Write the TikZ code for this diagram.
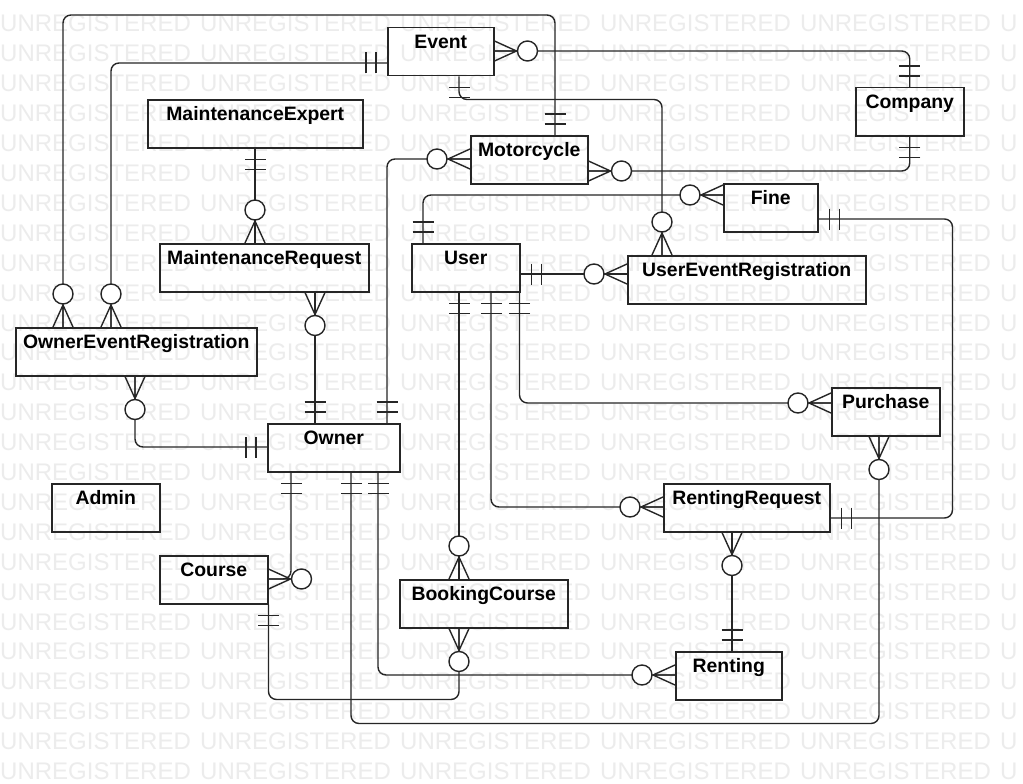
\documentclass[tikz,border=0pt]{standalone}
\usepackage{fontspec}
\setmainfont{Liberation Sans}
\usetikzlibrary{calc}
\tikzset{
  ent/.style={draw=black!85, line width=1.5pt, rectangle, anchor=north west,
    minimum height=48pt, inner xsep=0pt, inner ysep=0pt,
    text height=20.5pt, text depth=27.5pt,
    font=\fontsize{19.4}{20}\selectfont\bfseries},
  erline/.style={draw=black!85, line width=1.4pt, line join=round},
  conn/.style={erline, rounded corners=8pt},
  wm/.style={text=gray!15, font=\fontsize{24}{24}\selectfont, inner sep=0pt, anchor=base west},
}
\newcommand\ZeroMany[2]{%
  \begin{scope}[shift={(#1)},rotate=#2]
    \draw[erline] (0,-10) -- (22,0) -- (0,10) (0,0) -- (22,0);
    \draw[erline,fill=white] (33,0) circle[radius=10];
  \end{scope}}
\newcommand\MandOne[2]{%
  \begin{scope}[shift={(#1)},rotate=#2]
    \draw[erline] (11,-10.5) -- (11,10.5) (21,-10.5) -- (21,10.5);
  \end{scope}}
\begin{document}
\begin{tikzpicture}[x=1pt,y=-1pt]
\useasboundingbox (0,0) rectangle (1023,784);
\fill[white] (0,0) rectangle (1023,784);
% watermark
\foreach \r in {0,...,25} {
  \foreach \c in {0,...,4} {
    \node[wm] (wm-\r-\c) at ({200*\c},{32+29.9*\r}) {UNREGISTERED};
  }
  \node[wm] (wm-\r-5) at (1000,{32+29.9*\r}) {U};
}
% entities
\node[ent, minimum width=106pt] (event)    at (387,27)  {Event};
\node[ent, minimum width=108pt] (company)  at (855,87)  {Company};
\node[ent, minimum width=215pt] (mexpert)  at (147,99)  {MaintenanceExpert};
\node[ent, minimum width=117pt] (moto)     at (470,135) {Motorcycle};
\node[ent, minimum width=94pt]  (fine)     at (723,183) {Fine};
\node[ent, minimum width=108pt] (user)     at (411,243) {User};
\node[ent, minimum width=238pt] (uer)      at (627,255) {UserEventRegistration};
\node[ent, minimum width=209pt] (mreq)     at (159,243) {MaintenanceRequest};
\node[ent, minimum width=241pt] (oer)      at (15,327)  {OwnerEventRegistration};
\node[ent, minimum width=108pt] (purchase) at (831,387) {Purchase};
\node[ent, minimum width=132pt] (owner)    at (267,423) {Owner};
\node[ent, minimum width=108pt] (admin)    at (51,483)  {Admin};
\node[ent, minimum width=166pt] (rreq)     at (663,483) {RentingRequest};
\node[ent, minimum width=108pt] (course)   at (159,555) {Course};
\node[ent, minimum width=168pt] (booking)  at (399,579) {BookingCourse};
\node[ent, minimum width=106pt] (renting)  at (675,651) {Renting};
% end points
\coordinate (e1a) at ($(oer.north west)+(48,0)$);
\coordinate (e1b) at ($(moto.north west)+(85,0)$);
\coordinate (e2a) at ($(oer.north west)+(96,0)$);
\coordinate (e2b) at ($(event.north west)+(0,36)$);
\coordinate (e3a) at ($(mexpert.south west)+(108,0)$);
\coordinate (e3b) at ($(mreq.north west)+(96,0)$);
\coordinate (e4a) at ($(mreq.south west)+(156,0)$);
\coordinate (e4b) at ($(owner.north west)+(48,0)$);
\coordinate (e5a) at ($(oer.south west)+(120,0)$);
\coordinate (e5b) at ($(owner.north west)+(0,24)$);
\coordinate (e6a) at ($(owner.north west)+(120,0)$);
\coordinate (e6b) at ($(moto.north west)+(0,24)$);
\coordinate (e7a) at ($(event.north east)+(0,24)$);
\coordinate (e7b) at (company.north);
\coordinate (e8a) at ($(moto.north east)+(0,36)$);
\coordinate (e8b) at (company.south);
\coordinate (e9a) at ($(event.south west)+(72,0)$);
\coordinate (e9b) at ($(uer.north west)+(35,0)$);
\coordinate (e10a) at ($(fine.north west)+(0,12)$);
\coordinate (e10b) at ($(user.north west)+(12,0)$);
\coordinate (e11a) at ($(user.north east)+(0,31)$);
\coordinate (e11b) at ($(uer.north west)+(0,19)$);
\coordinate (e12a) at ($(fine.north east)+(0,36)$);
\coordinate (e12b) at ($(rreq.north east)+(0,35)$);
\coordinate (e13a) at ($(user.south east)+(-1,0)$);
\coordinate (e13b) at ($(purchase.north west)+(0,16)$);
\coordinate (e14a) at ($(user.south west)+(80,0)$);
\coordinate (e14b) at ($(rreq.north west)+(0,24)$);
\coordinate (e15a) at ($(user.south west)+(48,0)$);
\coordinate (e15b) at ($(booking.north west)+(60,0)$);
\coordinate (e16a) at ($(rreq.south west)+(69,0)$);
\coordinate (e16b) at ($(renting.north west)+(57,0)$);
\coordinate (e17a) at ($(owner.south west)+(111,0)$);
\coordinate (e17b) at ($(renting.north west)+(0,24)$);
\coordinate (e18a) at ($(owner.south west)+(84,0)$);
\coordinate (e18b) at ($(purchase.south west)+(48,0)$);
\coordinate (e19a) at ($(owner.south west)+(24,0)$);
\coordinate (e19b) at ($(course.north east)+(0,24)$);
\coordinate (e20a) at (course.south east);
\coordinate (e20b) at ($(booking.south west)+(60,0)$);
% connectors
\draw[conn] (e1a) |- ($(e1b)+(0,-120)$) -- (e1b);
\draw[conn] (e2a) |- (e2b);
\draw[conn] (e3a) -- (e3b);
\draw[conn] (e4a) -- (e4b);
\draw[conn] (e5a) |- (e5b);
\draw[conn] (e6a) |- (e6b);
\draw[conn] (e7a) -| (e7b);
\draw[conn] (e8a) -| (e8b);
\draw[conn] (e9a) -- ($(e9a)+(0,23)$) -| (e9b);
\draw[conn] (e10a) -| (e10b);
\draw[conn] (e11a) -- (e11b);
\draw[conn] (e12a) -| ($(e12b)+(122,0)$) -- (e12b);
\draw[conn] (e13a) |- (e13b);
\draw[conn] (e14a) |- (e14b);
\draw[conn] (e15a) -- (e15b);
\draw[conn] (e16a) -- (e16b);
\draw[conn] (e17a) |- (e17b);
\draw[conn] (e18a) |- ($(e18b)+(0,287)$) -- (e18b);
\draw[conn] (e19a) |- (e19b);
\draw[conn] (e20a) |- ($(e20b)+(0,71)$) -- (e20b);
% cardinality marks
\ZeroMany{e1a}{90}   \MandOne{e1b}{90}
\ZeroMany{e2a}{90}   \MandOne{e2b}{180}
\MandOne{e3a}{270}   \ZeroMany{e3b}{90}
\ZeroMany{e4a}{270}  \MandOne{e4b}{90}
\ZeroMany{e5a}{270}  \MandOne{e5b}{180}
\MandOne{e6a}{90}    \ZeroMany{e6b}{180}
\ZeroMany{e7a}{0}    \MandOne{e7b}{90}
\ZeroMany{e8a}{0}    \MandOne{e8b}{270}
\MandOne{e9a}{270}   \ZeroMany{e9b}{90}
\ZeroMany{e10a}{180} \MandOne{e10b}{90}
\MandOne{e11a}{0}    \ZeroMany{e11b}{180}
\MandOne{e12a}{0}    \MandOne{e12b}{0}
\MandOne{e13a}{270}  \ZeroMany{e13b}{180}
\MandOne{e14a}{270}  \ZeroMany{e14b}{180}
\MandOne{e15a}{270}  \ZeroMany{e15b}{90}
\ZeroMany{e16a}{270} \MandOne{e16b}{90}
\MandOne{e17a}{270}  \ZeroMany{e17b}{180}
\MandOne{e18a}{270}  \ZeroMany{e18b}{270}
\MandOne{e19a}{270}  \ZeroMany{e19b}{0}
\MandOne{e20a}{270}  \ZeroMany{e20b}{270}
\end{tikzpicture}
\end{document}
